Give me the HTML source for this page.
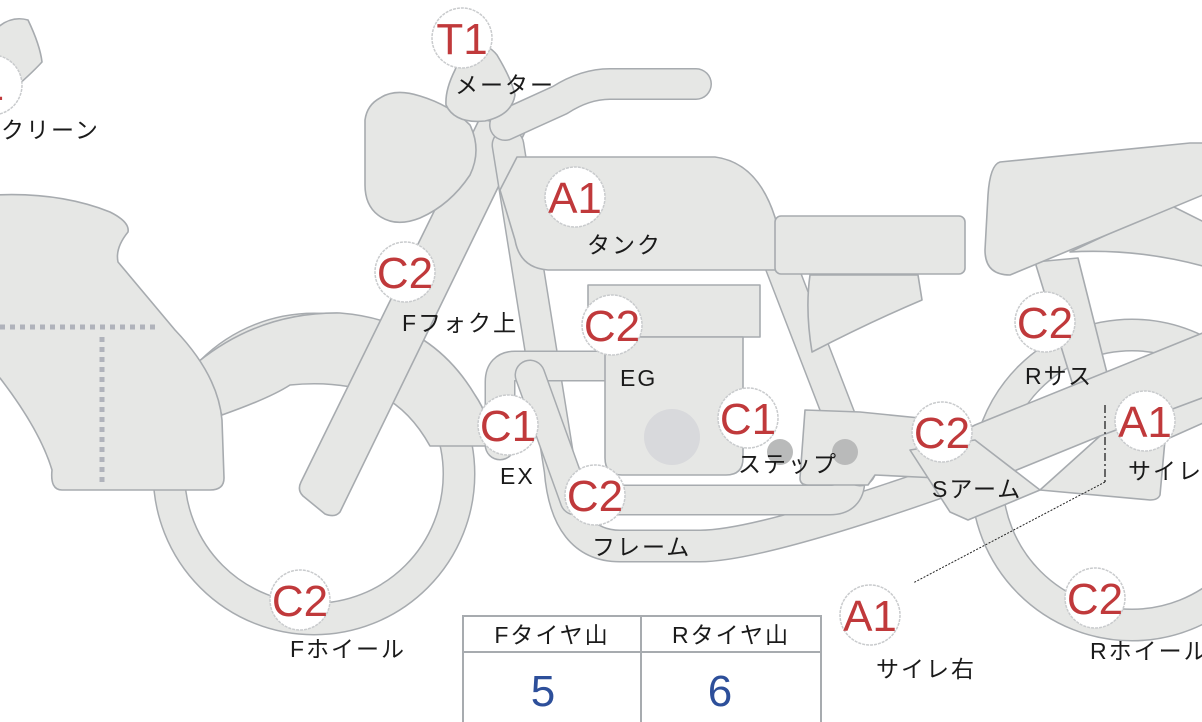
<!DOCTYPE html>
<html><head><meta charset="utf-8">
<style>
html,body{margin:0;padding:0;background:#fff;}
svg{display:block;}
.s{fill:#e6e7e5;stroke:#a7abaf;stroke-width:1.6;stroke-linejoin:round;}
.o{fill:none;stroke:#a7abaf;stroke-linejoin:round;stroke-linecap:round;}
.i{fill:none;stroke:#e6e7e5;stroke-linejoin:round;stroke-linecap:round;}
.c{fill:#fff;stroke:#c9cbcd;stroke-width:1.5;stroke-dasharray:3 1;}
.r{font-family:"Liberation Sans",sans-serif;font-size:44px;fill:#c0393b;text-anchor:middle;}
.t{font-family:"Liberation Sans","Noto Sans CJK JP",sans-serif;font-size:23px;letter-spacing:2px;fill:#1a1a1a;}
</style></head><body>
<svg width="1202" height="722" viewBox="0 0 1202 722" xmlns="http://www.w3.org/2000/svg">
<circle cx="314" cy="474" r="145" class="o" stroke-width="33"/>
<circle cx="314" cy="474" r="145" class="i" stroke-width="30"/>
<circle cx="1132" cy="480" r="145" class="o" stroke-width="33"/>
<circle cx="1132" cy="480" r="145" class="i" stroke-width="30"/>
<path class="s" d="M-5,30 Q10,15 28,20 Q40,45 42,62 Q30,75 10,92 L-5,100 Z"/>
<path class="s" d="M1070,252 L1170,205 L1210,225 L1210,268 Q1140,248 1070,252 Z"/>
<path class="s" d="M1035,262 L1078,258 L1110,385 L1075,392 Z"/>
<path class="s" d="M1000,162 L1190,143 L1210,143 L1210,192 L1010,275 Q985,275 985,250 L988,195 Q990,165 1000,162 Z"/>
<path class="s" d="M198,362 Q260,312 340,313 Q430,320 475,395 Q492,420 490,446 L430,446 Q410,410 380,395 Q340,380 290,385 Q270,398 222,415 Z"/>
<path class="s" d="M-5,195 Q60,192 110,212 Q130,222 128,232 Q115,248 118,262 L175,330 Q218,375 222,420 L224,478 Q224,490 210,490 L62,490 Q50,490 52,470 Q40,430 0,378 L-5,375 Z"/>
<path d="M0,327 H160" stroke="#b0b3bb" stroke-width="5" stroke-dasharray="5 5" fill="none"/>
<path d="M102,337 V482" stroke="#b0b3bb" stroke-width="5" stroke-dasharray="5 5" fill="none"/>
<path class="s" d="M480,118 L525,132 L340,512 Q335,518 325,514 L303,496 Q297,490 301,482 Z"/>
<path class="o" stroke-width="33" d="M508,145 L560,470 Q566,546 620,546 L700,546 Q760,546 960,475"/>
<path class="i" stroke-width="30" d="M508,145 L560,470 Q566,546 620,546 L700,546 Q760,546 960,475"/>
<path class="o" stroke-width="31" d="M610,366 L515,366 Q500,366 500,382 L500,445"/>
<path class="i" stroke-width="28" d="M610,366 L515,366 Q500,366 500,382 L500,445"/>
<path class="o" stroke-width="31" d="M530,375 L575,500 L830,500 Q850,500 850,480"/>
<path class="i" stroke-width="28" d="M530,375 L575,500 L830,500 Q850,500 850,480"/>
<path class="o" stroke-width="33" d="M775,250 L860,470"/>
<path class="i" stroke-width="30" d="M775,250 L860,470"/>
<rect class="s" x="588" y="285" width="172" height="52"/>
<path class="s" d="M605,337 L743,337 L743,458 Q743,475 726,475 L622,475 Q605,475 605,458 Z"/>
<circle cx="672" cy="437" r="28" fill="#d8d9dc"/>
<path class="s" d="M805,410 L860,412 L940,420 L938,478 L875,475 L868,485 L808,485 Q800,485 800,478 Z"/>
<circle cx="780" cy="452" r="13" fill="#b9baba"/>
<circle cx="845" cy="452" r="13" fill="#b9baba"/>
<path class="s" d="M930,448 L975,425 L1210,330 L1210,395 L1120,435 L1100,436 L980,485 Z"/>
<path class="s" d="M1100,436 L1210,395 L1210,420 L1165,440 L1160,495 Q1158,500 1150,500 L1040,490 Z"/>
<path class="s" d="M910,450 L975,440 L1040,490 L968,520 L950,512 Z"/>
<path class="s" d="M810,275 L918,275 L922,300 Q870,322 812,352 Q805,310 810,275 Z"/>
<path class="s" d="M517,157 L715,157 Q775,165 785,270 L548,270 Q520,268 515,240 L500,190 Z"/>
<rect class="s" x="775" y="216" width="190" height="58" rx="6"/>
<path class="s" d="M380,98 Q395,88 420,96 Q450,105 470,125 Q482,150 470,175 Q450,205 420,218 Q395,228 378,215 Q365,205 365,185 L365,120 Q367,105 380,98 Z"/>
<path class="o" stroke-width="32" d="M505,125 L560,100 Q585,84 610,84 L696,84"/>
<path class="i" stroke-width="29" d="M505,125 L560,100 Q585,84 610,84 L696,84"/>
<path class="s" d="M465,45 Q485,40 497,55 Q512,80 515,95 Q512,115 485,121 Q455,124 446,105 Q445,90 455,70 Z"/>
<path d="M1105,405 V482" stroke="#222" stroke-width="1.3" stroke-dasharray="8 3 2 3" fill="none"/>
<path d="M1105,482 L913,583" stroke="#222" stroke-width="1" stroke-dasharray="2 1.5" fill="none"/>
<circle class="c" cx="-8" cy="85" r="30"/><text class="r" x="-8" y="100">1</text>
<circle class="c" cx="462" cy="38" r="30"/><text class="r" x="462" y="54">T1</text>
<circle class="c" cx="575" cy="197" r="30"/><text class="r" x="575" y="213">A1</text>
<circle class="c" cx="405" cy="272" r="30"/><text class="r" x="405" y="288">C2</text>
<circle class="c" cx="612" cy="325" r="30"/><text class="r" x="612" y="341">C2</text>
<circle class="c" cx="508" cy="425" r="30"/><text class="r" x="508" y="441">C1</text>
<circle class="c" cx="748" cy="418" r="30"/><text class="r" x="748" y="434">C1</text>
<circle class="c" cx="595" cy="495" r="30"/><text class="r" x="595" y="511">C2</text>
<circle class="c" cx="942" cy="432" r="30"/><text class="r" x="942" y="448">C2</text>
<circle class="c" cx="1045" cy="322" r="30"/><text class="r" x="1045" y="338">C2</text>
<circle class="c" cx="1145" cy="421" r="30"/><text class="r" x="1145" y="437">A1</text>
<circle class="c" cx="870" cy="615" r="30"/><text class="r" x="870" y="631">A1</text>
<circle class="c" cx="1095" cy="598" r="30"/><text class="r" x="1095" y="614">C2</text>
<circle class="c" cx="300" cy="600" r="30"/><text class="r" x="300" y="616">C2</text>
<text class="t" x="-24" y="138">スクリーン</text>
<text class="t" x="455" y="93">メーター</text>
<text class="t" x="587" y="253">タンク</text>
<text class="t" x="402" y="331">Fフォク上</text>
<text class="t" x="620" y="386">EG</text>
<text class="t" x="500" y="484">EX</text>
<text class="t" x="738" y="472">ステップ</text>
<text class="t" x="592" y="555">フレーム</text>
<text class="t" x="932" y="497">Sアーム</text>
<text class="t" x="1025" y="384">Rサス</text>
<text class="t" x="1128" y="479">サイレ左</text>
<text class="t" x="876" y="677">サイレ右</text>
<text class="t" x="290" y="657">Fホイール</text>
<text class="t" x="1090" y="659">Rホイール</text>
<rect x="463" y="616" width="358" height="110" fill="#fff" stroke="#a7abaf" stroke-width="2"/>
<line x1="463" y1="652" x2="821" y2="652" stroke="#a7abaf" stroke-width="2"/>
<line x1="641" y1="616" x2="641" y2="722" stroke="#a7abaf" stroke-width="2"/>
<text class="t" x="552" y="643" text-anchor="middle">Fタイヤ山</text>
<text class="t" x="731" y="643" text-anchor="middle">Rタイヤ山</text>
<text x="543" y="706" font-family="Liberation Sans,sans-serif" font-size="44" fill="#2d4f9a" text-anchor="middle">5</text>
<text x="720" y="706" font-family="Liberation Sans,sans-serif" font-size="44" fill="#2d4f9a" text-anchor="middle">6</text>
</svg>
</body></html>
